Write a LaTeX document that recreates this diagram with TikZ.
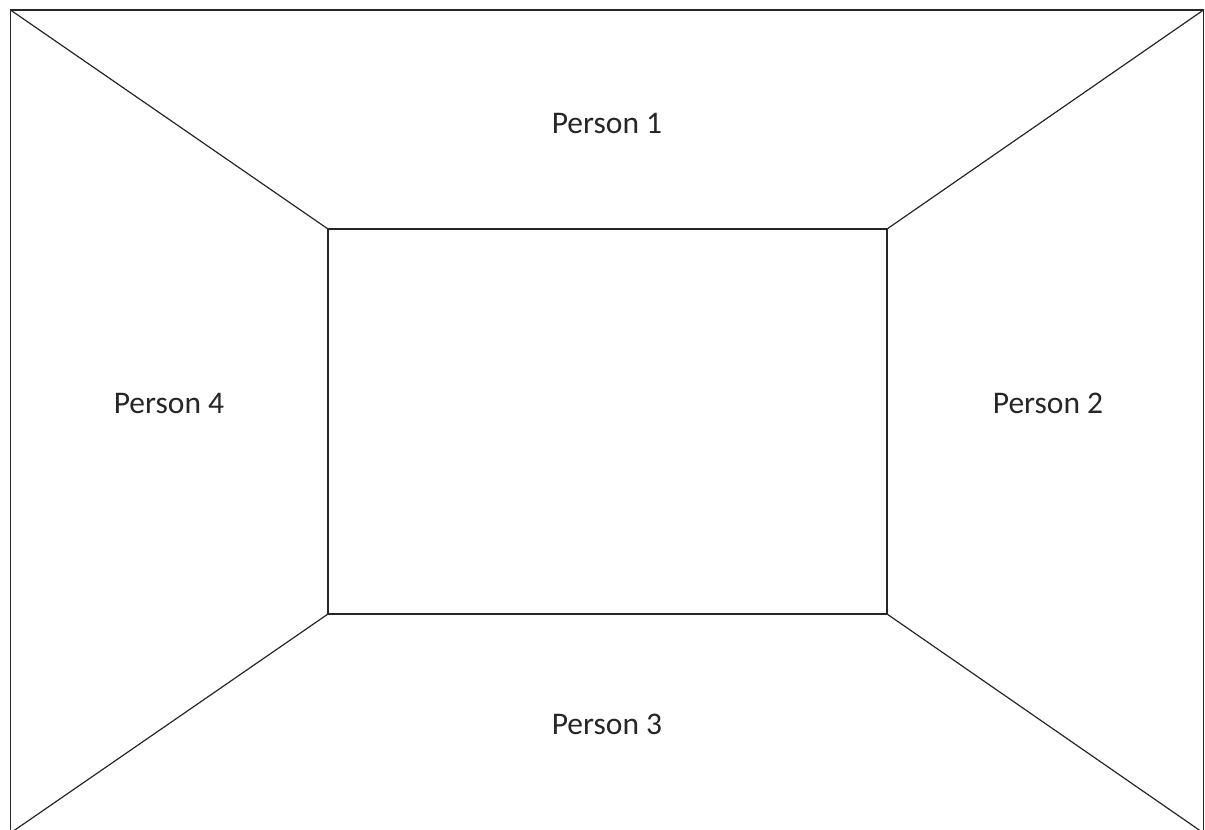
\documentclass[tikz,border=0pt]{standalone}
\usepackage{fontspec}
\setmainfont{Carlito}
\tikzset{edge/.style={line width=1.2pt,draw=black!85},
  label/.style={font=\fontsize{31.5}{36}\selectfont,text=black!85,inner sep=0pt}}
\begin{document}
\begin{tikzpicture}[x=1pt,y=-1pt]
\useasboundingbox (0,0) rectangle (1205,830);
\clip (0,0) rectangle (1205,830);
\coordinate (otl) at (10.5,10);
\coordinate (otr) at (1203.5,10);
\coordinate (obr) at (1203.5,833);
\coordinate (obl) at (10.5,833);
\coordinate (itl) at (328,229);
\coordinate (itr) at (887,229);
\coordinate (ibr) at (887,614);
\coordinate (ibl) at (328,614);
\draw[edge] (otl) -- (otr) -- (obr) -- (obl) -- cycle;
\draw[edge] (itl) -- (itr) -- (ibr) -- (ibl) -- cycle;
\draw[edge] (otl) -- (itl);
\draw[edge] (otr) -- (itr);
\draw[edge] (obr) -- (ibr);
\draw[edge] (obl) -- (ibl);
\node[label] (p1) at (607,123.5) {Person 1};
\node[label] (p2) at (1048,403) {Person 2};
\node[label] (p3) at (607,724) {Person 3};
\node[label] (p4) at (169,403) {Person 4};
\end{tikzpicture}
\end{document}
